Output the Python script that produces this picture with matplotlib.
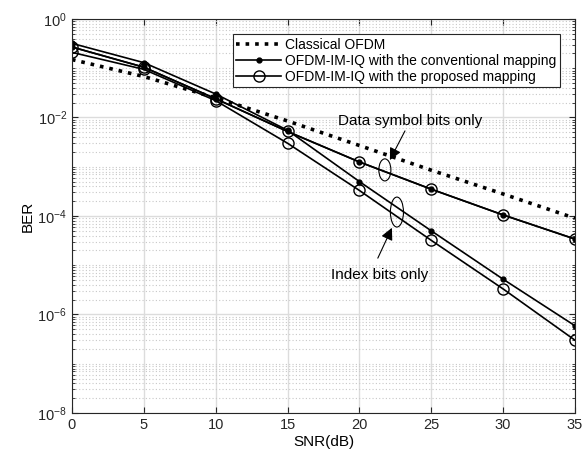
import numpy as np
import matplotlib
matplotlib.use('Agg')
import matplotlib.pyplot as plt
import matplotlib.ticker as mticker
from matplotlib.patches import Ellipse

plt.rcParams['font.family'] = ['Liberation Sans', 'DejaVu Sans']

# SNR in dB
snr = [0, 5, 10, 15, 20, 25, 30, 35]

# BER curves
ber_classical = [0.15, 0.068, 0.025, 0.0085, 0.0027, 0.00085, 0.00028, 0.00009]
ber_conv_data = [0.27, 0.105, 0.024, 0.0052, 1.25e-3, 3.5e-4, 1.05e-4, 3.4e-5]
ber_conv_index = [0.32, 0.13, 0.030, 0.0055, 5.0e-4, 5.0e-5, 5.2e-6, 5.9e-7]
ber_prop_data = [0.27, 0.105, 0.024, 0.0052, 1.25e-3, 3.5e-4, 1.05e-4, 3.4e-5]
ber_prop_index = [0.21, 0.095, 0.022, 0.0030, 3.3e-4, 3.2e-5, 3.3e-6, 3.0e-7]

fig = plt.figure(figsize=(5.88, 4.58), dpi=100)
ax = fig.add_axes([0.1224, 0.0983, 0.8555, 0.8602])

ax.semilogy(snr, ber_classical, ':', color='k', lw=2.6, label='Classical OFDM')
ax.semilogy(snr, ber_conv_data, '-', color='k', lw=1.2, marker='.', ms=7,
            label='OFDM-IM-IQ with the conventional mapping')
ax.semilogy(snr, ber_prop_data, '-', color='k', lw=1.2, marker='o', ms=8,
            mfc='none', label='OFDM-IM-IQ with the proposed mapping')
ax.semilogy(snr, ber_conv_index, '-', color='k', lw=1.2, marker='.', ms=7)
ax.semilogy(snr, ber_prop_index, '-', color='k', lw=1.2, marker='o', ms=8,
            mfc='none')

ax.set_xlim(0, 35)
ax.set_ylim(1e-8, 1)
ax.set_xticks(range(0, 36, 5))
ax.yaxis.set_major_locator(mticker.FixedLocator([1e-8, 1e-6, 1e-4, 1e-2, 1e0]))
ax.yaxis.set_major_formatter(mticker.LogFormatterMathtext())
minors = [m * 10.0 ** e for e in range(-8, 0) for m in range(1, 10)]
minors = [v for v in minors if v not in (1e-8, 1e-6, 1e-4, 1e-2)]
ax.yaxis.set_minor_locator(mticker.FixedLocator(minors))
ax.yaxis.set_minor_formatter(mticker.NullFormatter())

ax.grid(True, which='major', color='#dcdcdc', lw=1.0, ls='-')
ax.grid(True, which='minor', axis='y', color='#c8c8c8', lw=0.8, ls=(0, (1, 2)))
ax.set_axisbelow(True)

ax.tick_params(which='both', direction='in', top=True, right=True, labelsize=10.5,
               colors='#262626')
ax.tick_params(which='major', length=4)
ax.tick_params(which='minor', length=2)
for s in ax.spines.values():
    s.set_color('#262626')
    s.set_linewidth(0.8)

ax.set_xlabel('SNR(dB)', fontsize=11, labelpad=2)
ax.set_ylabel('BER', fontsize=11, labelpad=2)

leg = ax.legend(loc='upper right', fontsize=10, fancybox=False, framealpha=1,
                edgecolor='#262626', borderaxespad=1.1, handlelength=3.2,
                borderpad=0.25, labelspacing=0.15, handletextpad=0.3)
leg.get_frame().set_linewidth(0.8)

# annotations
ax.add_patch(Ellipse((0.622, 0.617), 0.024, 0.056, transform=ax.transAxes,
                     fill=False, lw=0.8, color='k'))
ax.add_patch(Ellipse((0.646, 0.510), 0.026, 0.076, transform=ax.transAxes,
                     fill=False, lw=0.8, color='k'))
ax.text(0.672, 0.742, 'Data symbol bits only', transform=ax.transAxes,
        ha='center', va='center', fontsize=11)
ax.text(0.612, 0.350, 'Index bits only', transform=ax.transAxes,
        ha='center', va='center', fontsize=11)
arrow = dict(arrowstyle='-|>', color='k', lw=0.8, mutation_scale=18,
             shrinkA=0, shrinkB=0)
ax.annotate('', xy=(0.632, 0.642), xytext=(0.662, 0.716),
            xycoords='axes fraction', textcoords='axes fraction', arrowprops=arrow)
ax.annotate('', xy=(0.636, 0.470), xytext=(0.608, 0.393),
            xycoords='axes fraction', textcoords='axes fraction', arrowprops=arrow)

fig.savefig('out.png', dpi=100)
